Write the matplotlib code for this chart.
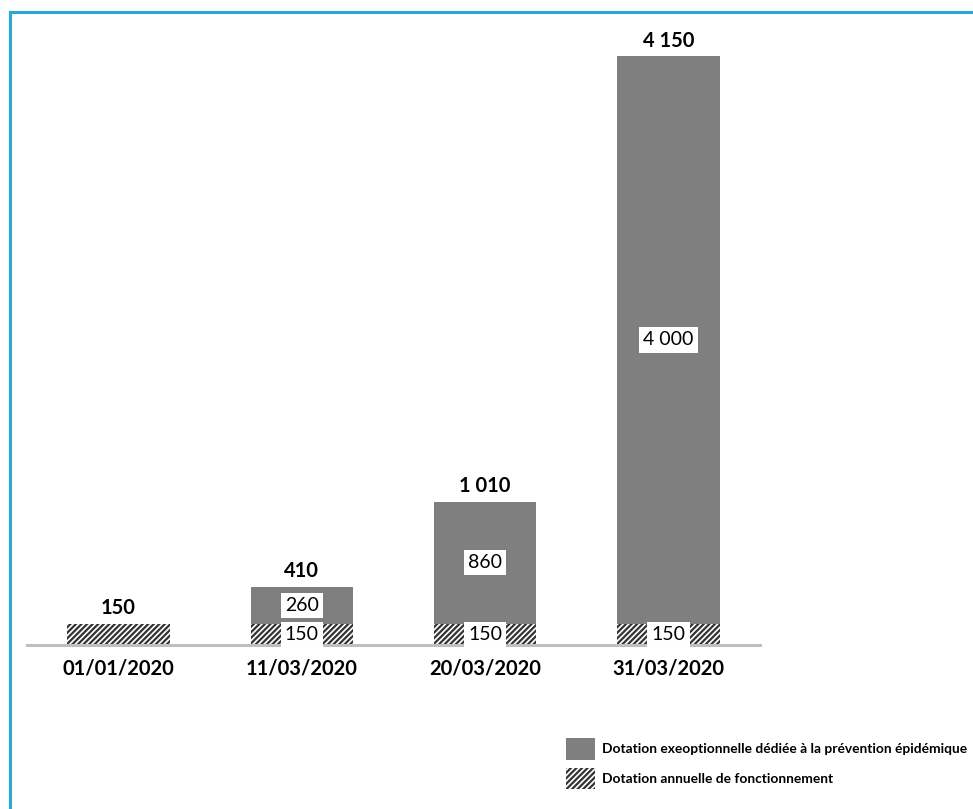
import matplotlib
matplotlib.use("Agg")
import matplotlib.pyplot as plt
from matplotlib.patches import Patch

dates = ["01/01/2020", "11/03/2020", "20/03/2020", "31/03/2020"]
annuelle = [150, 150, 150, 150]
exceptionnelle = [0, 260, 860, 4000]
totaux = ["150", "410", "1 010", "4 150"]
lab_annuelle = ["", "150", "150", "150"]
lab_except = ["", "260", "860", "4 000"]

plt.rcParams['font.family'] = ['Lato', 'DejaVu Sans']
plt.rcParams['hatch.linewidth'] = 1.6
plt.rcParams['hatch.color'] = '#333333'

fig = plt.figure(figsize=(9.73, 8.09), dpi=100)
ax = fig.add_axes([0.0277, 0.2027, 0.7533, 0.728])

x = range(len(dates))
gris = '#7f7f7f'
ax.bar(x, annuelle, width=0.56, color='white', hatch='//////', edgecolor='#333333', linewidth=0)
ax.bar(x, exceptionnelle, width=0.56, bottom=annuelle, color=gris, linewidth=0)

box = dict(boxstyle='square,pad=0.22', facecolor='white', edgecolor='none')
for i in x:
    total = annuelle[i] + exceptionnelle[i]
    ax.annotate(totaux[i], (i, total), xytext=(0, 4), textcoords='offset points',
                ha='center', va='bottom', fontsize=14.5, fontweight='bold')
    if lab_annuelle[i]:
        ax.text(i, annuelle[i] / 2, lab_annuelle[i], ha='center', va='center',
                fontsize=14, bbox=box)
    if lab_except[i]:
        ax.text(i, annuelle[i] + exceptionnelle[i] / 2, lab_except[i], ha='center',
                va='center', fontsize=14, bbox=box)

ax.set_xlim(-0.5, 3.5)
ax.set_ylim(0, 4150)
ax.set_xticks(list(x))
ax.set_xticklabels(dates, fontsize=14.5, fontweight='bold')
ax.tick_params(axis='x', length=0, pad=10)
ax.set_yticks([])
for s in ['top', 'right', 'left']:
    ax.spines[s].set_visible(False)
ax.spines['bottom'].set_color('#bfbfbf')
ax.spines['bottom'].set_linewidth(2.2)

handles = [Patch(facecolor=gris, edgecolor='none'),
           Patch(facecolor='white', hatch='//////', edgecolor='#333333', linewidth=0)]
labels = ["Dotation exeoptionnelle dédiée à la prévention épidémique",
          "Dotation annuelle de fonctionnement"]
fig.legend(handles, labels, loc='upper left', bbox_to_anchor=(0.576, 0.094),
           frameon=False, prop={'size': 9.9, 'weight': 'bold'},
           handlelength=2.1, handleheight=2.0, handletextpad=0.55, labelspacing=0.6,
           borderaxespad=0)

# cadre bleu
fig.add_artist(plt.Line2D([0.0098, 1.0], [1 - 12 / 809, 1 - 12 / 809], color='#29a9d9', lw=2.2))
fig.add_artist(plt.Line2D([0.0098, 0.0098], [0, 1 - 12 / 809], color='#29a9d9', lw=2.2))

fig.savefig("out.png", dpi=100)
